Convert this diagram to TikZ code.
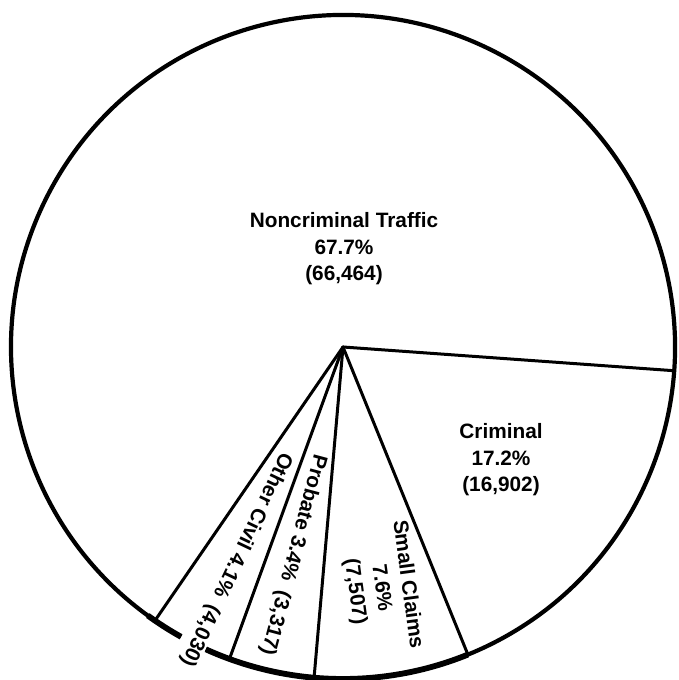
\documentclass[tikz,border=0pt]{standalone}
\usepackage{fontspec}
\setmainfont{Liberation Sans}
\usetikzlibrary{calc}
\begin{document}
\begin{tikzpicture}[x=1pt,y=1pt,
  rim/.style={line width=4.2pt},
  rimthick/.style={line width=5.8pt},
  spoke/.style={line width=3pt, line cap=round},
  lbl/.style={font=\bfseries\fontsize{20.8}{26.5}\selectfont, align=center, inner sep=0pt}]
\useasboundingbox (0,0) rectangle (678,680);
\coordinate (c) at (343,333);
\def\R{332}
% slice boundaries on the rim
\coordinate (b1) at ($(c)+(-4.1:\R)$);
\coordinate (b2) at ($(c)+(-67.9:\R)$);
\coordinate (b3) at ($(c)+(-95.0:\R)$);
\coordinate (b4) at ($(c)+(-110.0:\R)$);
\coordinate (b5) at ($(c)+(-124.5:\R)$);
% gap ends in the rim
\coordinate (g1) at ($(c)+(-114.4:\R)$);
\coordinate (g2) at ($(c)+(-119.2:\R)$);
\coordinate (t1) at ($(c)+(-126:\R)$);
% rim
\draw[rim] (g1) arc[start angle=-114.4, end angle=240.8, radius=\R];
\draw[rimthick] (t1) arc[start angle=-126, end angle=-119.2, radius=\R];
\draw[rimthick] (g1) arc[start angle=-114.4, end angle=-67.9, radius=\R];
% spokes
\foreach \b in {b1,b2,b3,b4,b5} \draw[spoke] (c) -- (\b);
% labels
\node[lbl] (traffic) at (344,431) {Noncriminal Traffic\\67.7\%\\(66,464)};
\node[lbl] (criminal) at (501,220) {Criminal\\17.2\%\\(16,902)};
\node[lbl, rotate=-82.3] (small) at (381,92) {Small Claims\\7.6\%\\(7,507)};
\node[lbl, rotate=-104.9] (probate) at (293,125) {Probate 3.4\%\enspace(3,317)};
\node[lbl, rotate=-115.4] (other) at (236,120.5) {Other Civil 4.1\%\enspace(4,030)};
\end{tikzpicture}
\end{document}
